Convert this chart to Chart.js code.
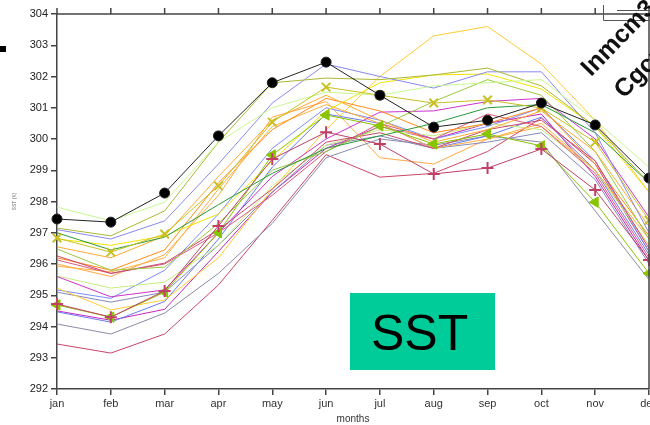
<!DOCTYPE html>
<html>
<head>
<meta charset="utf-8">
<script src="https://cdn.jsdelivr.net/npm/chart.js@4/dist/chart.umd.min.js"></script>
<style>
html, body { margin: 0; padding: 0; background: #fff; overflow: hidden; width: 650px; height: 425px; }
#wrap { position: relative; width: 700px; height: 425px; }
#sst { position: absolute; left: 350px; top: 293px; width: 145px; height: 77px; background: #00cc99;
       font: 50px 'Liberation Sans', Arial, sans-serif; color: #000; line-height: 80px; padding-left: 21px; box-sizing: border-box; }
.rot { position: absolute; font: bold 25px 'Liberation Sans', Arial, sans-serif; line-height: 25px; color: #111;
       transform-origin: 0 100%; transform: rotate(-46deg); white-space: nowrap; }
</style>
</head>
<body>
<div id="wrap">
  <canvas id="mainChart" width="700" height="425"></canvas>
  <div id="sst">SST</div>
  <div class="rot" style="left:594px; top:55px;">Inmcm3</div>
  <div class="rot" style="left:627px; top:77px;">Cgcm3</div>
</div>
<script>
const months = ['jan', 'feb', 'mar', 'apr', 'may', 'jun', 'jul', 'aug', 'sep', 'oct', 'nov', 'dec'];
const yTicks = [292, 293, 294, 295, 296, 297, 298, 299, 300, 301, 302, 303, 304];

// marked series
const blackDots   = [297.44, 297.34, 298.27, 300.1, 301.8, 302.46, 301.4, 300.38, 300.6, 301.15, 300.45, 298.75];
const redPlus     = [294.72, 294.3, 295.14, 297.22, 299.36, 300.22, 299.84, 298.88, 299.07, 299.68, 298.37, 296.13];
const yellowCross = [296.83, 296.38, 296.96, 298.5, 300.54, 301.66, 301.4, 301.15, 301.25, 300.99, 299.9, 297.4];
const greenTri    = [294.69, 294.3, 295.1, 297.0, 299.49, 300.77, 300.42, 299.84, 300.16, 299.78, 297.98, 295.7];

// plain series
const lightGreen1 = [297.82, 297.38, 297.98, 299.9, 301.0, 301.5, 301.4, 301.7, 301.8, 301.9, 300.6, 299.1];
const olive1      = [297.15, 296.9, 297.7, 299.9, 301.8, 301.95, 301.9, 302.05, 302.27, 301.7, 300.4, 298.6];
const violet1     = [297.1, 296.8, 297.38, 299.2, 301.15, 302.4, 302.0, 301.63, 302.15, 302.15, 300.2, 297.0];
const green1      = [297.0, 296.45, 296.86, 297.9, 298.9, 299.7, 300.1, 300.5, 301.0, 301.1, 300.2, 298.6];
const yellow1     = [296.8, 296.6, 296.9, 297.6, 299.3, 300.9, 301.8, 302.05, 302.08, 301.6, 300.4, 298.3];
const orange1     = [296.55, 296.2, 296.9, 298.8, 300.6, 301.4, 300.6, 299.9, 300.3, 300.9, 299.6, 297.2];
const olive2      = [296.48, 295.8, 295.9, 297.3, 299.0, 299.6, 300.4, 301.2, 301.9, 301.4, 299.6, 296.8];
const crimson1    = [296.26, 295.7, 296.03, 297.1, 298.4, 299.9, 300.2, 299.7, 300.3, 300.6, 299.3, 296.5];
const orange2     = [296.2, 295.8, 296.45, 298.6, 300.3, 301.3, 300.9, 300.2, 300.5, 301.0, 299.2, 296.9];
const pink1       = [296.13, 295.7, 296.0, 297.0, 298.2, 299.6, 300.5, 300.0, 300.8, 300.4, 298.9, 296.2];
const orange3     = [295.93, 295.75, 296.2, 298.4, 300.4, 301.1, 300.5, 299.7, 300.0, 300.5, 299.0, 296.8];
const magenta1    = [295.6, 294.95, 295.17, 297.0, 298.8, 300.0, 300.86, 300.9, 301.2, 301.3, 300.0, 297.5];
const lightGreen2 = [295.62, 295.23, 295.42, 296.6, 298.5, 299.8, 300.3, 300.1, 300.5, 300.3, 299.0, 296.6];
const gold1       = [295.23, 294.53, 294.85, 296.2, 298.4, 300.3, 302.0, 303.3, 303.6, 302.4, 300.6, 298.3];
const blue1       = [295.17, 294.9, 295.8, 297.6, 299.7, 301.0, 300.6, 300.0, 300.4, 301.0, 299.3, 296.4];
const grayBlue1   = [295.1, 294.78, 295.1, 296.6, 298.3, 299.8, 300.1, 299.7, 299.9, 300.2, 298.7, 296.0];
const blue2       = [294.47, 294.14, 294.8, 296.8, 299.1, 300.8, 300.5, 299.7, 300.1, 300.7, 299.0, 296.3];
const magenta2    = [294.5, 294.2, 294.55, 296.4, 298.3, 299.7, 300.4, 300.0, 300.5, 300.8, 298.8, 296.1];
const grayBlue2   = [294.08, 293.76, 294.43, 295.7, 297.3, 299.4, 300.0, 299.8, 300.1, 299.9, 297.7, 295.5];
const crimson2    = [293.44, 293.15, 293.76, 295.33, 297.4, 299.5, 298.78, 298.9, 299.6, 300.67, 299.2, 296.4];
const orange4     = [296.0, 295.6, 296.3, 298.2, 300.7, 301.2, 299.4, 299.2, 300.0, 300.4, 299.0, 296.6];

const plainLines = [
    [lightGreen1, '#c8f890'], [olive1, '#aab832'], [violet1, '#8888ee'], [green1, '#2a9a3a'],
    [yellow1, '#f4e400'], [orange1, '#ffaa33'], [olive2, '#99c844'], [crimson1, '#cc4a70'],
    [orange2, '#ff8c1a'], [pink1, '#dd5a7a'], [orange3, '#ffb040'], [magenta1, '#cc33cc'],
    [lightGreen2, '#c8ec80'], [gold1, '#ffcc33'], [blue1, '#7a8cff'], [grayBlue1, '#8888bb'],
    [blue2, '#6a7aee'], [magenta2, '#c824bc'], [grayBlue2, '#8a8aaa'], [crimson2, '#cc4466'],
    [orange4, '#ffaa44']
];

const datasets = [
    { data: blackDots, borderColor: '#222', backgroundColor: '#000', pointRadius: 5, pointStyle: 'circle' },
    { data: redPlus, borderColor: '#c04068', backgroundColor: '#c03a62', pointRadius: 6, pointStyle: 'cross', pointBorderWidth: 2 },
    { data: yellowCross, borderColor: '#c8c020', backgroundColor: '#c8c800', pointRadius: 6, pointStyle: 'crossRot', pointBorderWidth: 2 },
    { data: greenTri, borderColor: '#88c400', backgroundColor: '#88c400', pointRadius: 6, pointStyle: 'triangle', pointRotation: -90 }
];
plainLines.forEach(([vals, col]) => {
    datasets.push({ data: vals, borderColor: col, backgroundColor: col, pointRadius: 0 });
});

const font = { family: "'Liberation Sans', Arial, sans-serif", size: 11 };

// frame pieces the axes do not draw
const framePlugin = {
    id: 'frame',
    afterDraw(chart) {
        const { ctx, chartArea: a, scales: { x } } = chart;
        ctx.save();
        ctx.strokeStyle = '#444';
        ctx.lineWidth = 1.5;
        ctx.beginPath();
        ctx.moveTo(a.left, a.top);
        ctx.lineTo(a.right, a.top);
        ctx.lineTo(a.right, a.bottom);
        months.forEach((m, i) => {
            const px = x.getPixelForValue(i);
            ctx.moveTo(px, a.top);
            ctx.lineTo(px, a.top - 6);
        });
        ctx.stroke();
        // corner of the legend box
        ctx.lineWidth = 1;
        ctx.strokeStyle = '#555';
        ctx.beginPath();
        ctx.moveTo(603.5, 5);
        ctx.lineTo(603.5, 20.5);
        ctx.lineTo(650, 20.5);
        ctx.moveTo(617, 10.5);
        ctx.lineTo(650, 10.5);
        ctx.stroke();
        ctx.fillStyle = '#000';
        ctx.fillRect(0, 46, 6, 6);
        ctx.restore();
    }
};

new Chart(document.getElementById('mainChart').getContext('2d'), {
    type: 'line',
    data: { labels: months, datasets: datasets },
    options: {
        responsive: false,
        animation: false,
        layout: { padding: { left: 0, right: 51, top: 14, bottom: 0 } },
        elements: { line: { borderWidth: 1, tension: 0 }, point: { hoverRadius: 0 } },
        plugins: { legend: { display: false }, tooltip: { enabled: false } },
        scales: {
            x: {
                offset: false,
                grid: { drawOnChartArea: false, tickLength: 6, color: '#444', lineWidth: 1.5 },
                border: { color: '#444', width: 1.5 },
                ticks: { font: font, color: '#333', padding: 2, maxRotation: 0 },
                title: { display: true, text: 'months', font: { family: font.family, size: 10 }, color: '#333', padding: 0 },
                afterFit: s => { s.height = 36; }
            },
            y: {
                min: yTicks[0],
                max: yTicks[yTicks.length - 1],
                afterBuildTicks: s => { s.ticks = yTicks.map(v => ({ value: v })); },
                grid: { drawOnChartArea: false, tickLength: 6, color: '#444', lineWidth: 1.5 },
                border: { color: '#444', width: 1.5 },
                ticks: { font: font, color: '#222', padding: 3 },
                title: { display: true, text: 'SST (K)', font: { family: font.family, size: 5 }, color: '#666', padding: { top: 12, bottom: 0 } },
                afterFit: s => { s.width = 57; }
            }
        }
    },
    plugins: [framePlugin]
});
</script>
</body>
</html>
